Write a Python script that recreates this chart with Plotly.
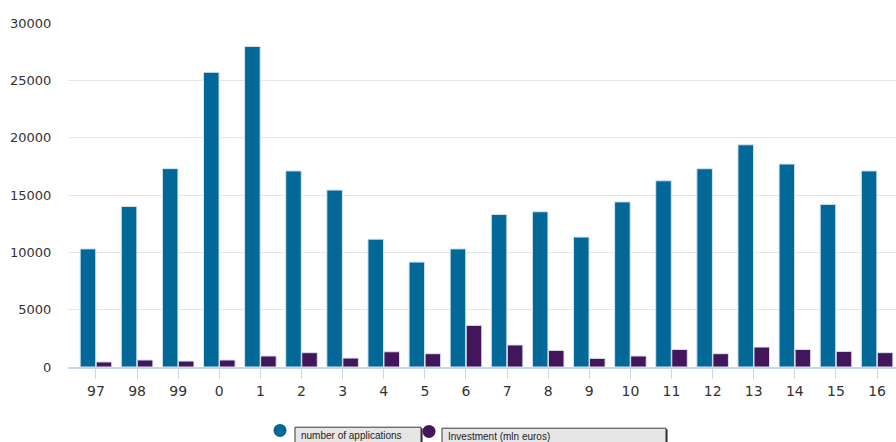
import plotly.graph_objects as go

categories = ["97", "98", "99", "0", "1", "2", "3", "4", "5", "6",
              "7", "8", "9", "10", "11", "12", "13", "14", "15", "16"]
applications = [10300, 14000, 17300, 25700, 27950, 17100, 15430, 11150, 9150, 10300,
                13300, 13540, 11330, 14400, 16240, 17290, 19380, 17700, 14180, 17100]
investment = [440, 610, 520, 610, 960, 1250, 780, 1330, 1160, 3630,
              1920, 1450, 750, 960, 1530, 1160, 1740, 1530, 1360, 1250]
series_names = ["number of applications", "Investment (mln euros)"]
y_ticks = [0, 5000, 10000, 15000, 20000, 25000, 30000]

W, H = 896, 442
L, R, T = 68, 0, 23.3
B = H - 367.3
PW, PH = W - L - R, H - T - B

def px(x):
    return (x - L) / PW

def py(y):
    return (H - B - y) / PH

BLUE = "#026898"
PURPLE = "#43165b"

fig = go.Figure()
fig.add_trace(go.Bar(x=categories, y=applications, name=series_names[0],
                     marker=dict(color=BLUE, line=dict(color="#d6e4ee", width=1))))
fig.add_trace(go.Bar(x=categories, y=investment, name=series_names[1],
                     marker=dict(color=PURPLE, line=dict(color="#d6e4ee", width=1))))

shapes = []
for cx, cy, color in [(280, 430.7, BLUE), (429, 431.7, PURPLE)]:
    r = 6.5
    shapes.append(dict(type="circle", xref="paper", yref="paper",
                       x0=px(cx - r), x1=px(cx + r), y0=py(cy + r), y1=py(cy - r),
                       fillcolor=color, line=dict(width=0)))
for x0, x1, top in [(295, 421, 427.5), (442, 666, 428.5)]:
    shapes.append(dict(type="rect", xref="paper", yref="paper",
                       x0=px(x0 + 1), x1=px(x1 + 1.5), y0=py(460), y1=py(top + 1),
                       fillcolor="#1e1e1e", line=dict(width=0)))
    shapes.append(dict(type="rect", xref="paper", yref="paper",
                       x0=px(x0), x1=px(x1), y0=py(458), y1=py(top),
                       fillcolor="#e6e6e6", line=dict(color="#3a3a3a", width=1)))

annotations = []
for tx, ty, name in [(299, 435.5, series_names[0]), (446, 436.5, series_names[1])]:
    annotations.append(dict(xref="paper", yref="paper", x=px(tx), y=py(ty),
                            xanchor="left", yanchor="middle", text=name, showarrow=False,
                            font=dict(family="Liberation Sans", size=10, color="#222")))

fig.update_layout(
    width=W, height=H,
    margin=dict(l=L, r=R, t=T, b=B, pad=0),
    paper_bgcolor="white", plot_bgcolor="white",
    barmode="group", bargap=0.22, bargroupgap=0.03,
    showlegend=False,
    font=dict(family="DejaVu Sans", color="#333"),
    shapes=shapes, annotations=annotations,
    xaxis=dict(type="category", range=[-0.68, 19.46], showgrid=False,
               ticks="outside", ticklen=10, tickcolor="#ccd6eb", tickwidth=1,
               showline=True, linecolor="#ccd6eb", linewidth=2,
               tickfont=dict(size=14, color="#333")),
    yaxis=dict(range=[0, 30000], tickvals=y_ticks, ticktext=[str(v) for v in y_ticks],
               showgrid=True, gridcolor="#e6e6e6", gridwidth=1, zeroline=False,
               ticks="outside", ticklen=13, tickcolor="rgba(0,0,0,0)",
               tickfont=dict(size=13, color="#333")),
)

fig.write_html("out.html",
               config={"displayModeBar": False},
               post_script="document.body.style.margin='0';document.body.style.overflow='hidden';")
